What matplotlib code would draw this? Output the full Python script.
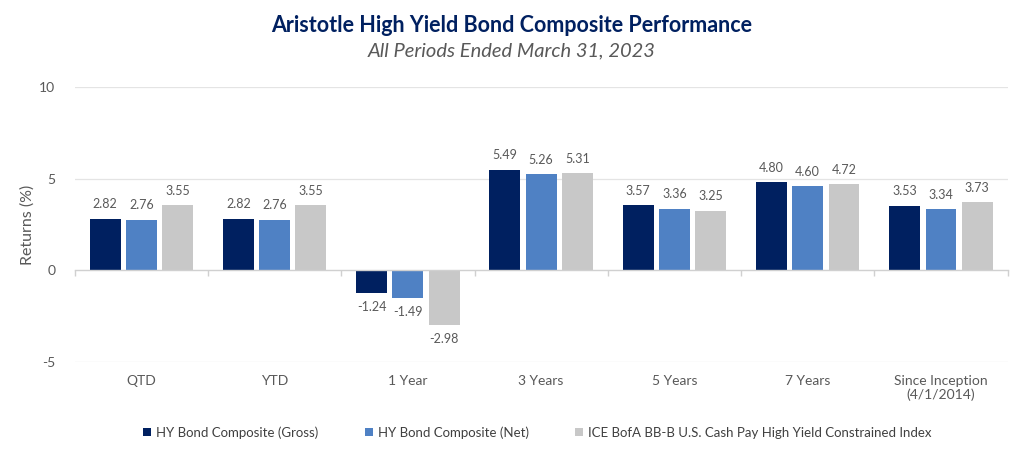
import matplotlib.pyplot as plt
import numpy as np
from matplotlib.transforms import blended_transform_factory

plt.rcParams['font.family'] = ['Lato', 'DejaVu Sans']

periods = ['QTD', 'YTD', '1 Year', '3 Years', '5 Years', '7 Years',
           'Since Inception\n(4/1/2014)']
gross = [2.82, 2.82, -1.24, 5.49, 3.57, 4.80, 3.53]
net = [2.76, 2.76, -1.49, 5.26, 3.36, 4.60, 3.34]
index = [3.55, 3.55, -2.98, 5.31, 3.25, 4.72, 3.73]
series_names = ['HY Bond Composite (Gross)', 'HY Bond Composite (Net)',
                'ICE BofA BB-B U.S. Cash Pay High Yield Constrained Index']
colors = ['#002060', '#4f81c4', '#c8c8c8']
yticks = [-5, 0, 5, 10]

fig = plt.figure(figsize=(10.24, 4.53), dpi=100)
ax = fig.add_axes([0.073, 0.201, 0.911, 0.607])

x = np.arange(len(periods))
width = 0.232
offsets = [-0.272, 0, 0.272]

handles = []
for vals, off, col, name in zip([gross, net, index], offsets, colors, series_names):
    bars = ax.bar(x + off, vals, width, color=col, label=name, zorder=3)
    handles.append(bars)
    for xi, v in zip(x + off, vals):
        if v >= 0:
            ax.text(xi, v + 0.45, f'{v:.2f}', ha='center', va='bottom',
                    fontsize=9, color='#595959')
        else:
            ax.text(xi, v - 0.45, f'{v:.2f}', ha='center', va='top',
                    fontsize=9, color='#595959')

ax.set_xlim(-0.5, len(periods) - 0.5)
ax.set_ylim(-5, 10)
ax.set_yticks(yticks)
ax.set_yticklabels([str(t) for t in yticks])
ax.tick_params(axis='y', length=0, labelsize=10, labelcolor='#595959', pad=14)
for t in yticks:
    if t != 0:
        ax.axhline(t, color='#e4e4e4', lw=0.9, zorder=0)

for s in ['top', 'right', 'left']:
    ax.spines[s].set_visible(False)
ax.spines['bottom'].set_position(('data', 0))
ax.spines['bottom'].set_color('#d0d0d0')
ax.spines['bottom'].set_linewidth(1.0)
ax.spines['bottom'].set_zorder(4)

ax.set_xticks(np.arange(len(periods) + 1) - 0.5)
ax.set_xticklabels([])
ax.tick_params(axis='x', direction='out', length=4, color='#d0d0d0', width=1.0)

trans = blended_transform_factory(ax.transData, ax.transAxes)
for xi, lab in zip(x, periods):
    ax.text(xi, -0.048, lab, transform=trans, ha='center', va='top',
            fontsize=10, color='#595959', linespacing=1.15)

ax.set_ylabel('Returns (%)', fontsize=11.5, color='#595959', labelpad=3)

fig.text(0.5, 0.943, 'Aristotle High Yield Bond Composite Performance',
         ha='center', va='center', fontsize=15.5, fontweight='bold', color='#002060')
fig.text(0.5, 0.888, 'All Periods Ended March 31, 2023', ha='center', va='center',
         fontsize=14.5, style='italic', color='#595959')

fig.legend(handles=handles, labels=series_names, loc='center', ncol=3,
           bbox_to_anchor=(0.525, 0.045), frameon=False, fontsize=9.5,
           labelcolor='#404040', handlelength=0.6, handleheight=0.6,
           handletextpad=0.4, columnspacing=3.5)

fig.savefig('out.png', dpi=100)
